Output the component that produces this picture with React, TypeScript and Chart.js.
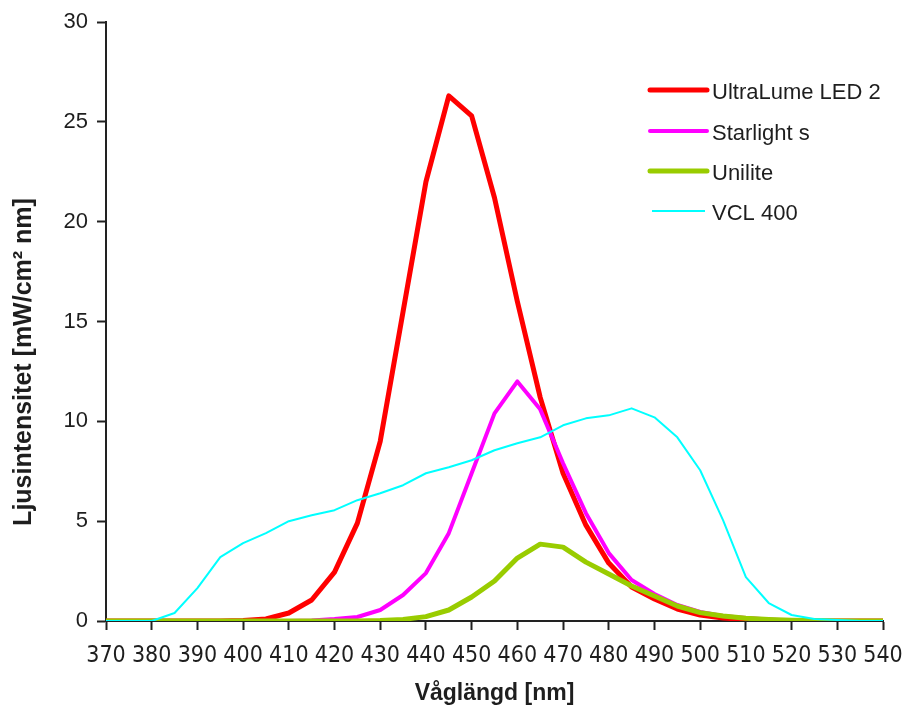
import React, { useEffect, useRef } from "react";
import { Chart, registerables } from "chart.js";

Chart.register(...registerables);

const wavelengths = [
  370, 375, 380, 385, 390, 395, 400, 405, 410, 415, 420, 425, 430, 435, 440, 445, 450,
  455, 460, 465, 470, 475, 480, 485, 490, 495, 500, 505, 510, 515, 520, 525, 530, 535, 540,
];

const ultraLume = [
  0, 0, 0, 0, 0, 0, 0.02, 0.1, 0.4, 1.05, 2.45, 4.9, 9.0, 15.5, 22.0, 26.3, 25.3,
  21.2, 16.0, 11.2, 7.4, 4.8, 2.9, 1.7, 1.1, 0.6, 0.3, 0.15, 0.07, 0.02, 0, 0, 0, 0, 0,
];

const starlight = [
  0, 0, 0, 0, 0, 0, 0, 0, 0, 0.03, 0.1, 0.2, 0.55, 1.3, 2.4, 4.4, 7.4,
  10.4, 12.0, 10.6, 7.9, 5.4, 3.4, 2.05, 1.35, 0.8, 0.45, 0.25, 0.15, 0.08, 0.03, 0, 0, 0, 0,
];

const unilite = [
  0, 0, 0, 0, 0, 0, 0, 0, 0, 0, 0, 0, 0.02, 0.08, 0.22, 0.55, 1.2,
  2.0, 3.15, 3.85, 3.7, 2.95, 2.35, 1.75, 1.25, 0.75, 0.42, 0.25, 0.14, 0.08, 0.04, 0.02, 0, 0, 0,
];

const vcl400 = [
  0, 0, 0, 0.4, 1.65, 3.2, 3.9, 4.4, 5.0, 5.3, 5.55, 6.05, 6.4, 6.8, 7.4, 7.7, 8.05,
  8.55, 8.9, 9.2, 9.8, 10.15, 10.3, 10.65, 10.2, 9.2, 7.55, 5.05, 2.2, 0.9, 0.3, 0.1, 0.05, 0, 0,
];

const seriesNames = ["UltraLume LED 2", "Starlight s", "Unilite", "VCL 400"];
const seriesColors = ["#ff0000", "#ff00ff", "#99cc00", "#00ffff"];
const seriesWidths = [5, 4, 5, 2];
const seriesValues = [ultraLume, starlight, unilite, vcl400];

const xTitle = "Våglängd [nm]";
const yTitle = "Ljusintensitet [mW/cm² nm]";

const textColor = "#1e1e1e";
const axisColor = "#222222";

const decorPlugin = {
  id: "decor",
  afterDraw(chart: any) {
    const ctx = chart.ctx as CanvasRenderingContext2D;
    const area = chart.chartArea;
    ctx.save();
    // Axis titles
    ctx.fillStyle = textColor;
    ctx.font = "bold 23px 'Liberation Sans', Arial, sans-serif";
    ctx.textAlign = "center";
    ctx.textBaseline = "alphabetic";
    ctx.fillText(xTitle, (area.left + area.right) / 2, 700);

    ctx.save();
    ctx.translate(31, 362);
    ctx.rotate(-Math.PI / 2);
    ctx.font = "bold 25px 'Liberation Sans', Arial, sans-serif";
    ctx.fillText(yTitle, 0, 0);
    ctx.restore();

    // Legend
    ctx.font = "22px 'Liberation Sans', Arial, sans-serif";
    ctx.textAlign = "left";
    ctx.textBaseline = "alphabetic";
    const lx0 = 650;
    const lx1 = 707;
    const ys = [90, 131, 171, 211];
    seriesNames.forEach((name, i) => {
      const y = ys[i];
      ctx.strokeStyle = seriesColors[i];
      ctx.lineWidth = seriesWidths[i];
      ctx.lineCap = i === 3 ? "butt" : "round";
      ctx.beginPath();
      ctx.moveTo(lx0 + (i === 3 ? 2 : 0), y);
      ctx.lineTo(lx1 - (i === 3 ? 2 : 0), y);
      ctx.stroke();
      ctx.fillStyle = textColor;
      ctx.fillText(name, 712, y + 9);
    });
    ctx.restore();
  },
};

export default function App() {
  const canvasRef = useRef<HTMLCanvasElement | null>(null);

  useEffect(() => {
    if (!canvasRef.current) return;
    const datasets = seriesNames.map((name, i) => ({
      label: name,
      data: wavelengths.map((w, j) => ({ x: w, y: seriesValues[i][j] })),
      borderColor: seriesColors[i],
      backgroundColor: seriesColors[i],
      borderWidth: seriesWidths[i],
      pointRadius: 0,
      tension: 0,
      fill: false,
      borderJoinStyle: "round" as const,
      borderCapStyle: "round" as const,
      order: 4 - i,
    }));

    const chart = new Chart(canvasRef.current, {
      type: "line",
      data: { datasets },
      options: {
        animation: false,
        responsive: false,
        maintainAspectRatio: false,
        devicePixelRatio: 1,
        layout: { padding: { left: 0, right: 22, top: 22, bottom: 0 } },
        plugins: {
          legend: { display: false },
          tooltip: { enabled: false },
          title: { display: false },
        },
        scales: {
          x: {
            type: "linear",
            min: 370,
            max: 540,
            afterFit: (scale: any) => {
              scale.height = 90;
              scale.paddingLeft = 0;
              scale.paddingRight = 0;
            },
            ticks: {
              stepSize: 10,
              autoSkip: false,
              maxRotation: 0,
              padding: 12,
              color: textColor,
              font: { family: "'Liberation Sans Narrow', 'DejaVu Sans Condensed', 'Liberation Sans', sans-serif", size: 23 },
            },
            grid: {
              drawOnChartArea: false,
              drawTicks: true,
              tickLength: 9,
              tickWidth: 2,
              tickColor: axisColor,
            },
            border: { display: true, color: axisColor, width: 2 },
          },
          y: {
            type: "linear",
            min: 0,
            max: 30,
            afterFit: (scale: any) => {
              scale.width = 106;
              scale.paddingTop = 0;
              scale.paddingBottom = 0;
            },
            ticks: {
              stepSize: 5,
              padding: 9,
              color: textColor,
              font: { family: "'Liberation Sans', Arial, sans-serif", size: 22 },
            },
            grid: {
              drawOnChartArea: false,
              drawTicks: true,
              tickLength: 9,
              tickWidth: 2,
              tickColor: axisColor,
            },
            border: { display: true, color: axisColor, width: 2 },
          },
        },
      },
      plugins: [decorPlugin],
    });
    return () => chart.destroy();
  }, []);

  return (
    <div style={{ position: "fixed", left: 0, top: 0, width: 905, height: 711, background: "#ffffff" }}>
      <canvas ref={canvasRef} width={905} height={711} style={{ display: "block", width: 905, height: 711 }} />
    </div>
  );
}
